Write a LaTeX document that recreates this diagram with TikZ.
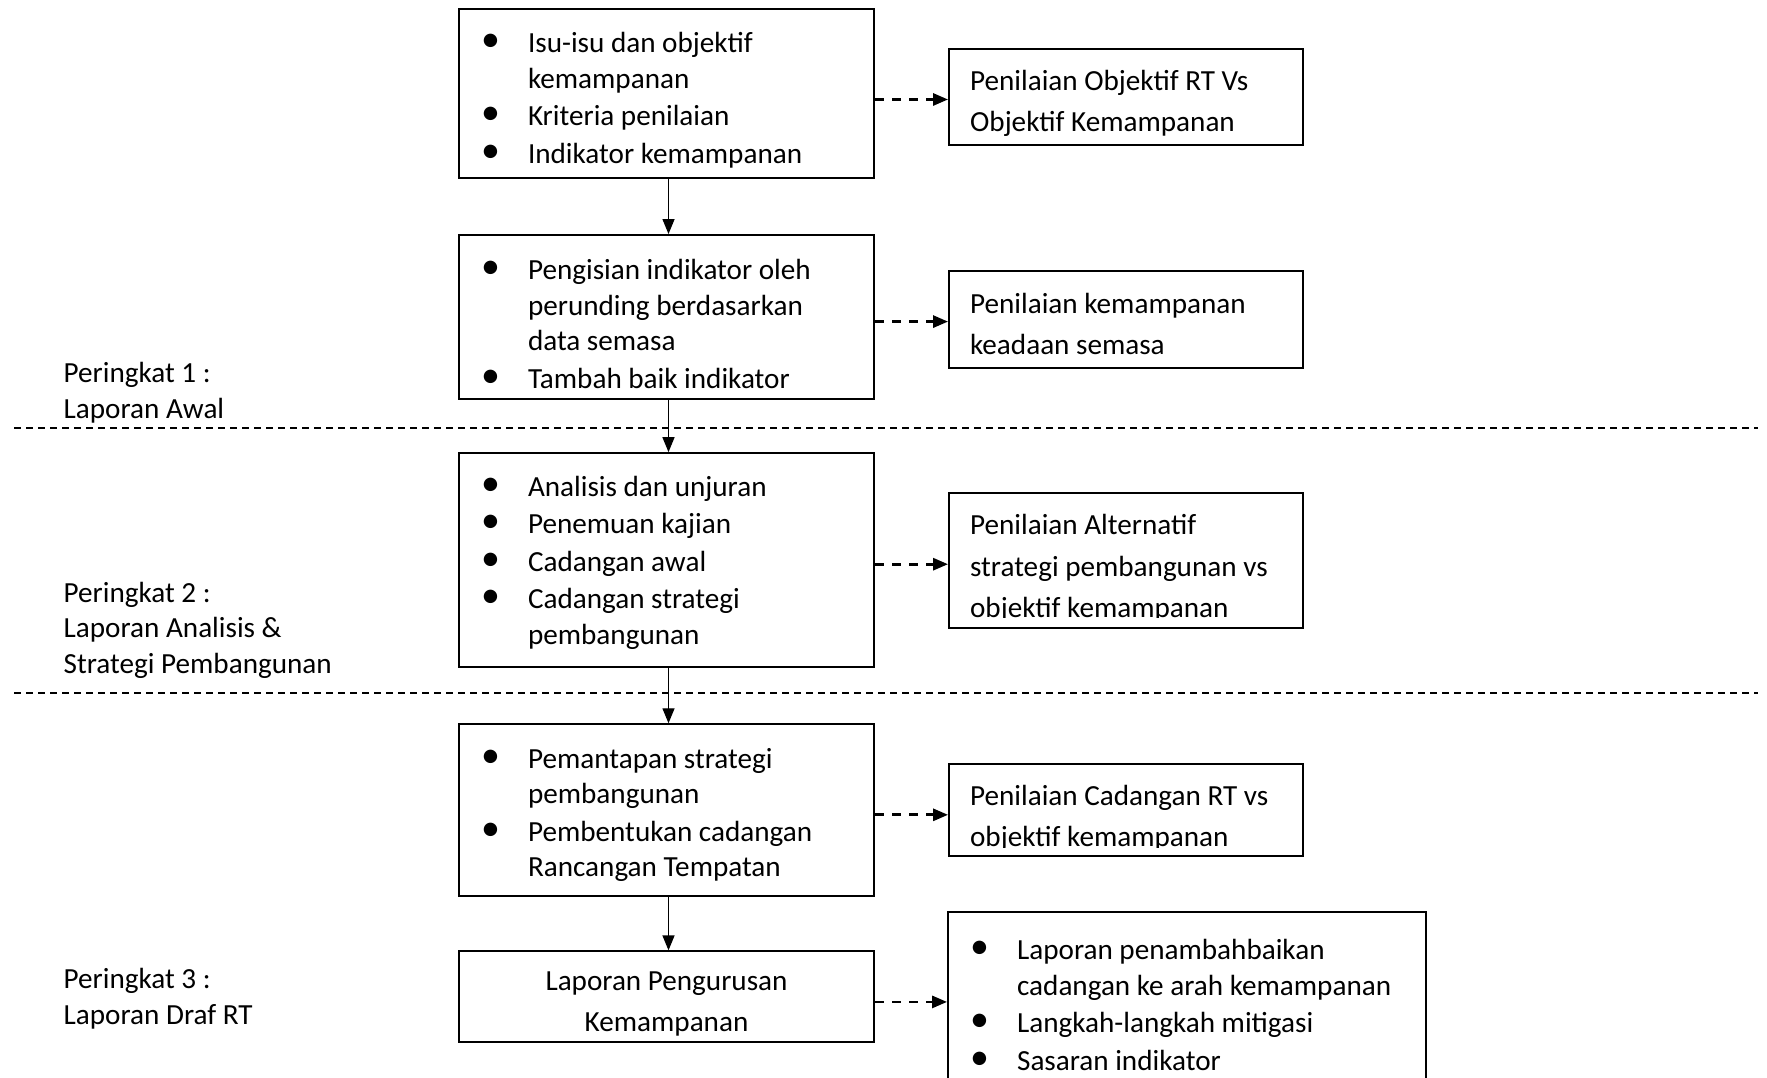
\documentclass[tikz,border=0pt]{standalone}
\usepackage{fontspec}
\setmainfont{Carlito}
\usepackage{graphicx}
\usepackage{array}
\usetikzlibrary{positioning,arrows.meta}

\newcommand{\boxfont}{\fontsize{8.3pt}{10.1pt}\selectfont}
\newcommand{\notefont}{\fontsize{8.3pt}{11.8pt}\selectfont}
\newcommand{\bul}{\raisebox{0.01cm}{\scalebox{1.3}{\textbullet}}}
\newcommand{\blist}[1]{\begin{tabular}{@{\hspace{0.22cm}}p{0.47cm}@{}l@{}}#1\end{tabular}}
% width, height, top space, text
\newcommand{\inbox}[4]{\parbox[c][#2][t]{#1}{\vspace*{#3}#4}}

\begin{document}
\begin{tikzpicture}[
    leftbox/.style={draw, line width=0.6pt, rectangle, inner sep=0pt, font=\boxfont},
    rightbox/.style={draw, line width=0.6pt, rectangle, inner xsep=0.21cm, inner ysep=0pt, font=\notefont},
    stagelabel/.style={anchor=west, align=left, inner sep=0pt, font=\boxfont},
    flowarrow/.style={-{Triangle[length=0.15cm,width=0.12cm]}, line width=0.4pt},
    linkarrow/.style={-{Triangle[length=0.15cm,width=0.12cm]}, line width=0.8pt, dash pattern=on 0.09cm off 0.08cm},
    divline/.style={line width=0.4pt, dash pattern=on 0.07cm off 0.05cm}]
    \useasboundingbox (0,0) rectangle (17.67,-10.78);

    % Left column
    \node[leftbox] (isu) at (6.665,-0.935) {\inbox{4.15cm}{1.69cm}{0.19cm}{\blist{
        \bul & Isu-isu dan objektif\\
             & kemampanan\\[0.02cm]
        \bul & Kriteria penilaian\\[0.02cm]
        \bul & Indikator kemampanan}}};
    \node[leftbox, below=0.55cm of isu] (isian) {\inbox{4.15cm}{1.64cm}{0.20cm}{\blist{
        \bul & Pengisian indikator oleh\\
             & perunding berdasarkan\\
             & data semasa\\[0.02cm]
        \bul & Tambah baik indikator}}};
    \node[leftbox, below=0.52cm of isian] (analisis) {\inbox{4.15cm}{2.14cm}{0.18cm}{\blist{
        \bul & Analisis dan unjuran\\[0.02cm]
        \bul & Penemuan kajian\\[0.02cm]
        \bul & Cadangan awal\\[0.02cm]
        \bul & Cadangan strategi\\
             & pembangunan}}};
    \node[leftbox, below=0.55cm of analisis] (mantap) {\inbox{4.15cm}{1.72cm}{0.19cm}{\blist{
        \bul & Pemantapan strategi\\
             & pembangunan\\[0.02cm]
        \bul & Pembentukan cadangan\\
             & Rancangan Tempatan}}};
    \node[leftbox, below=0.53cm of mantap, font=\notefont] (urus) {\inbox{4.15cm}{0.91cm}{0.10cm}{\centering\strut Laporan Pengurusan\\Kemampanan}};

    % Right column
    \node[rightbox, right=0.73cm of isu, yshift=-0.035cm] (nilaiobj) {\inbox{3.12cm}{0.96cm}{0.12cm}{\strut Penilaian Objektif RT Vs\\Objektif Kemampanan}};
    \node[rightbox, right=0.73cm of isian, yshift=-0.025cm] (nilaisemasa) {\inbox{3.12cm}{0.97cm}{0.13cm}{\strut Penilaian kemampanan\\keadaan semasa}};
    \node[rightbox, right=0.73cm of analisis] (nilaialt) {\inbox{3.12cm}{1.35cm}{0.13cm}{\strut Penilaian Alternatif\\strategi pembangunan vs\\objektif kemampanan}};
    \node[rightbox, right=0.73cm of mantap] (nilaicad) {\inbox{3.12cm}{0.92cm}{0.12cm}{\strut Penilaian Cadangan RT vs\\objektif kemampanan}};
    \node[leftbox, right=0.72cm of urus] (tambah) {\inbox{4.78cm}{1.7cm}{0.23cm}{\blist{
        \bul & Laporan penambahbaikan\\
             & cadangan ke arah kemampanan\\[0.02cm]
        \bul & Langkah-langkah mitigasi\\[0.02cm]
        \bul & Sasaran indikator}}};
    % text cut at the lower edge
    \fill[white] ([shift={(0.03,0.025)}]nilaialt.south west) rectangle ([shift={(-0.03,0.11)}]nilaialt.south east);
    \fill[white] ([shift={(0.03,0.025)}]nilaicad.south west) rectangle ([shift={(-0.03,0.09)}]nilaicad.south east);

    % Stages
    \node[stagelabel] (stage1) at (0.63,-3.925) {Peringkat 1 :\\Laporan Awal};
    \node[stagelabel] (stage2) at (0.63,-6.30) {Peringkat 2 :\\Laporan Analisis \&\\Strategi Pembangunan};
    \node[stagelabel] (stage3) at (0.63,-9.985) {Peringkat 3 :\\Laporan Draf RT};
    \draw[divline] (0.14,-4.28) -- (17.58,-4.28);
    \draw[divline] (0.14,-6.93) -- (17.58,-6.93);

    % Arrows
    \draw[flowarrow] ([xshift=0.02cm]isu.south) -- ([xshift=0.02cm]isian.north);
    \draw[flowarrow] ([xshift=0.02cm]isian.south) -- ([xshift=0.02cm]analisis.north);
    \draw[flowarrow] ([xshift=0.02cm]analisis.south) -- ([xshift=0.02cm]mantap.north);
    \draw[flowarrow] ([xshift=0.02cm]mantap.south) -- ([xshift=0.02cm]urus.north);
    \draw[linkarrow] ([yshift=-0.06cm]isu.east) -- ([yshift=-0.06cm]isu.east -| nilaiobj.west);
    \draw[linkarrow] ([yshift=-0.045cm]isian.east) -- ([yshift=-0.045cm]isian.east -| nilaisemasa.west);
    \draw[linkarrow] ([yshift=-0.04cm]analisis.east) -- ([yshift=-0.04cm]analisis.east -| nilaialt.west);
    \draw[linkarrow] ([yshift=-0.045cm]mantap.east) -- ([yshift=-0.045cm]mantap.east -| nilaicad.west);
    \draw[linkarrow] ([yshift=-0.05cm]urus.east) -- ([yshift=-0.05cm]urus.east -| tambah.west);
\end{tikzpicture}
\end{document}
